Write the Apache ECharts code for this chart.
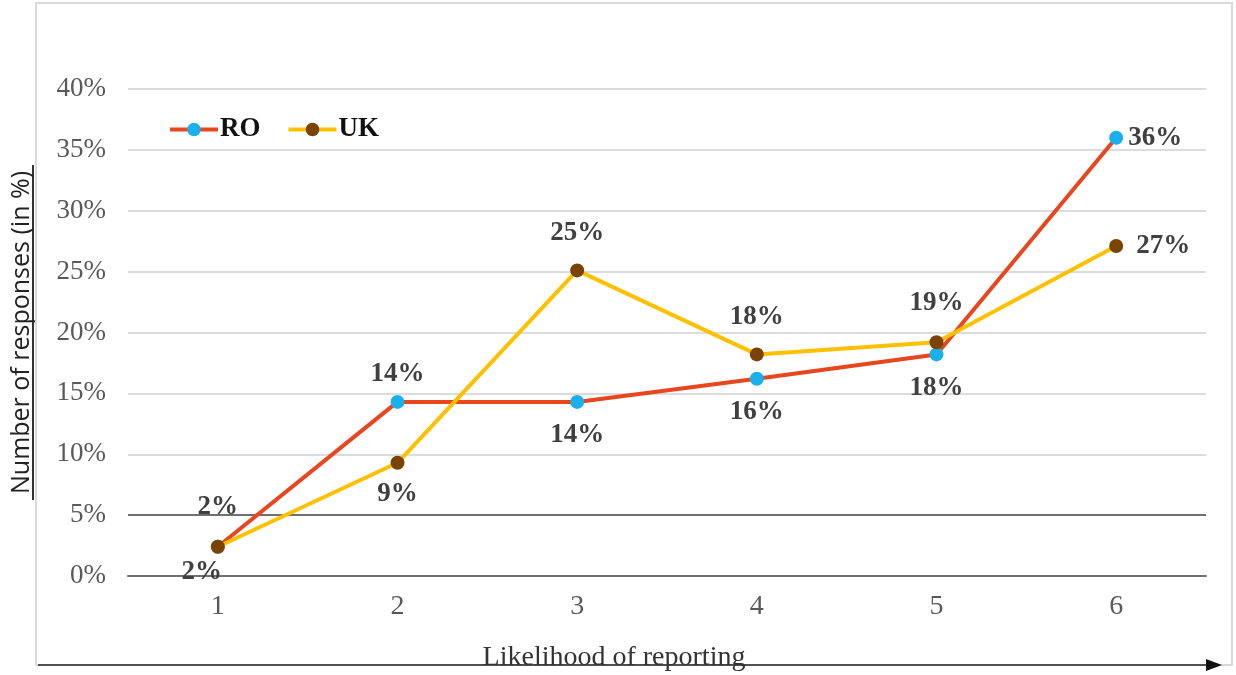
<!DOCTYPE html>
<html lang="en">
<head>
    <meta charset="UTF-8">
    <title>Likelihood of reporting</title>
    <script src="https://cdn.jsdelivr.net/npm/echarts@6/dist/echarts.min.js"></script>
</head>
<body style="margin:0;">
<div id="main" style="width: 1236px;height:675px;"></div>
<script type="text/javascript">
    // data (percent of responses)
    var categories = ['1', '2', '3', '4', '5', '6'];
    var roValues = [2.4, 14.3, 14.3, 16.2, 18.2, 36.0];
    var ukValues = [2.4, 9.3, 25.1, 18.2, 19.2, 27.1];

    // where each data label sits
    var roLabelPos = ['bottom', 'top', 'bottom', 'bottom', 'bottom', 'right'];
    var ukLabelPos = ['top', 'bottom', 'top', 'top', 'top', 'right'];
    var roLabelDist = [5, 7, 13, 13, 13, 5];
    var ukLabelDist = [19, 11, 17, 17, 19, 13];
    var roLabelShift = [-16, 0, 0, 0, 0, 0];

    var serif = '"Liberation Serif", "Times New Roman", serif';

    function buildData(values, positions, dists, shifts) {
        return values.map(function (v, i) {
            return {
                value: v,
                label: {
                    position: positions[i],
                    distance: dists[i],
                    offset: [shifts ? shifts[i] : 0, 0]
                }
            };
        });
    }

    var myChart = echarts.init(document.getElementById('main'));

    var labelStyle = {
        show: true,
        fontFamily: serif,
        fontWeight: 'bold',
        fontSize: 27,
        color: '#404040',
        formatter: function (p) {
            return Math.round(p.value) + '%';
        }
    };

    myChart.setOption({
        backgroundColor: '#fff',
        animation: false,
        grid: {
            left: 128,
            right: 30,
            top: 89,
            bottom: 99,
            outerBoundsMode: 'none'
        },
        legend: {
            left: 163,
            top: 111,
            itemWidth: 48,
            itemHeight: 17,
            itemGap: 26,
            lineStyle: {width: 4},
            textStyle: {
                fontFamily: serif,
                fontWeight: 'bold',
                fontSize: 27,
                color: '#111',
                padding: [0, 0, 0, -3]
            },
            data: ['RO', 'UK']
        },
        xAxis: {
            type: 'category',
            data: categories,
            boundaryGap: true,
            axisLine: {lineStyle: {color: '#707070', width: 2}},
            axisTick: {show: false},
            axisLabel: {
                fontFamily: serif,
                fontSize: 28,
                color: '#595959',
                margin: 17
            },
            name: 'Likelihood of reporting',
            nameLocation: 'middle',
            nameGap: 68,
            nameTextStyle: {
                fontFamily: serif,
                fontSize: 28,
                color: '#333',
                padding: [0, 106, 0, 0]
            }
        },
        yAxis: {
            type: 'value',
            min: 0,
            max: 40,
            interval: 5,
            axisLine: {show: false},
            axisTick: {show: false},
            axisLabel: {
                fontFamily: serif,
                fontSize: 27,
                color: '#595959',
                margin: 22,
                formatter: '{value}%'
            },
            splitLine: {
                lineStyle: {
                    width: 2,
                    color: ['#707070', '#707070', '#dcdcdc', '#dcdcdc', '#dcdcdc',
                        '#dcdcdc', '#dcdcdc', '#dcdcdc', '#dcdcdc']
                }
            },
            name: 'Number of responses (in %)',
            nameLocation: 'middle',
            nameGap: 94,
            nameRotate: 90,
            nameTextStyle: {
                fontFamily: '"Open Sans", "Liberation Sans", sans-serif',
                fontSize: 25,
                color: '#222'
            }
        },
        graphic: [
            {
                // outer frame
                type: 'rect',
                silent: true,
                shape: {x: 36, y: 3, width: 1196, height: 662},
                style: {fill: 'none', stroke: '#dadada', lineWidth: 2}
            },
            {
                // underline of the rotated y title
                type: 'line',
                silent: true,
                shape: {x1: 33, y1: 165, x2: 33, y2: 500},
                style: {stroke: '#333', lineWidth: 2}
            },
            {
                // bottom arrow
                type: 'line',
                silent: true,
                shape: {x1: 38, y1: 665, x2: 1210, y2: 665},
                style: {stroke: '#222', lineWidth: 1.5}
            },
            {
                type: 'polygon',
                silent: true,
                shape: {points: [[1206, 659], [1222, 665], [1206, 671]]},
                style: {fill: '#111'}
            }
        ],
        series: [
            {
                name: 'RO',
                type: 'line',
                data: buildData(roValues, roLabelPos, roLabelDist, roLabelShift),
                symbol: 'circle',
                symbolSize: 14,
                lineStyle: {color: '#e8461e', width: 4},
                itemStyle: {color: '#1ab0ec'},
                label: labelStyle,
                z: 2
            },
            {
                name: 'UK',
                type: 'line',
                data: buildData(ukValues, ukLabelPos, ukLabelDist),
                symbol: 'circle',
                symbolSize: 14,
                lineStyle: {color: '#ffc000', width: 4},
                itemStyle: {color: '#7a4300'},
                label: labelStyle,
                z: 3
            }
        ]
    });
</script>
</body>
</html>
